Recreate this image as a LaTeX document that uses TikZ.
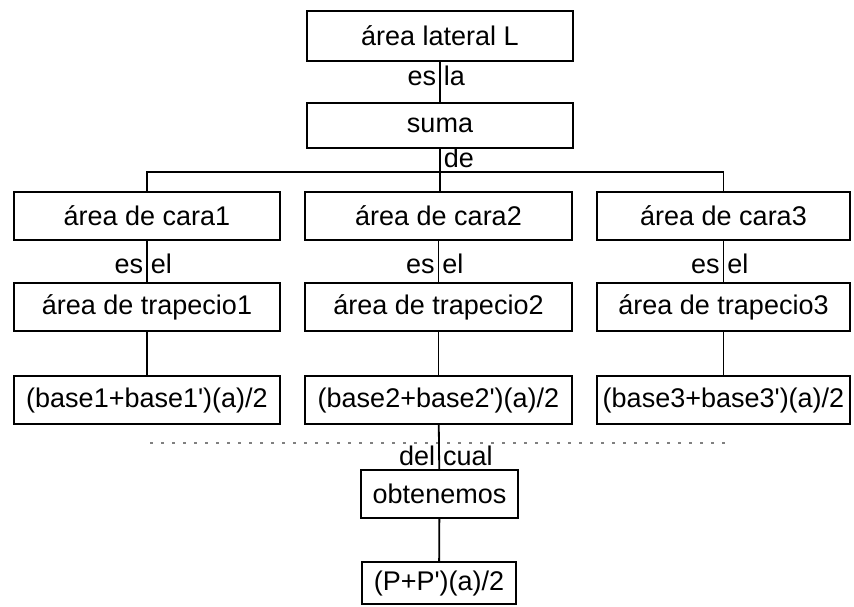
\documentclass[tikz,border=0pt]{standalone}
\usepackage{fontspec}
\setmainfont{Liberation Sans}
\usepackage{tikz}

\begin{document}
\begin{tikzpicture}[
        x=0.5pt, y=-0.5pt,
        concept/.style={rectangle, draw=black, line width=0.9pt,
                    minimum width=133pt, minimum height=24pt, inner sep=0pt,
                    font=\fontsize{13.5}{16}\selectfont},
        word/.style={inner sep=1.5pt, text height=1.6ex, text depth=0.2ex,
                    font=\fontsize{13.5}{16}\selectfont},
        link/.style={line width=0.9pt, color=black}
      ]
        \useasboundingbox (0,0) rectangle (854,606);
        \node[concept, minimum width=133pt, minimum height=25pt] (lateral) at (440,36) {área lateral L};
        \node[concept, minimum height=22.5pt] (suma) at (440,125.5) {suma};
        \node[concept] (cara1) at (147,216) {área de cara1};
        \node[concept, minimum width=133.5pt] (cara2) at (438.5,216) {área de cara2};
        \node[concept, minimum width=126.5pt] (cara3) at (723.5,216) {área de cara3};
        \node[concept] (trap1) at (147,307) {área de trapecio1};
        \node[concept, minimum width=133.5pt] (trap2) at (438.5,307) {área de trapecio2};
        \node[concept, minimum width=126.5pt] (trap3) at (723.5,307) {área de trapecio3};
        \node[concept] (form1) at (147,400) {(base1+base1\textquotesingle)(a)/2};
        \node[concept, minimum width=133.5pt] (form2) at (438.5,400) {(base2+base2\textquotesingle)(a)/2};
        \node[concept, minimum width=126.5pt] (form3) at (723.5,400) {(base3+base3\textquotesingle)(a)/2};
        \node[concept, minimum width=78.5pt] (obten) at (439.5,494) {obtenemos};
        \node[concept, minimum width=77pt, minimum height=21pt] (perim) at (439,583) {(P+P\textquotesingle)(a)/2};
        \coordinate (rama) at (440,172);
        \coordinate (izq) at (150,443);
        \coordinate (der) at (730,443);
        \draw[link] (lateral) -- node[word, pos=.4, anchor=east] {es} node[word, pos=.4, anchor=west] {la} (suma);
        \draw[link] (suma) -- node[word, anchor=west] {de} (rama);
        \draw[link] (cara1.north) |- (rama) -| (cara3.north);
        \draw[link] (rama) -- (rama |- cara2.north);
        \draw[link] (cara1) -- node[word, pos=.6, anchor=east] {es} node[word, pos=.6, anchor=west] {el} (trap1);
        \draw[link] (cara2) -- node[word, pos=.6, anchor=east] {es} node[word, pos=.6, anchor=west] {el} (trap2);
        \draw[link] (cara3) -- node[word, pos=.6, anchor=east] {es} node[word, pos=.6, anchor=west] {el} (trap3);
        \draw[link] (trap1) -- (form1);
        \draw[link] (trap2) -- (form2);
        \draw[link] (trap3) -- (form3);
        \draw[gray, line width=1pt, dash pattern=on 1.5pt off 4pt] (izq) -- (der);
        \draw[link] (form2) -- node[word, pos=.75, anchor=east] {del} node[word, pos=.75, anchor=west] {cual} (obten);
        \draw[link] (obten) -- (perim);
      \end{tikzpicture}
\end{document}
